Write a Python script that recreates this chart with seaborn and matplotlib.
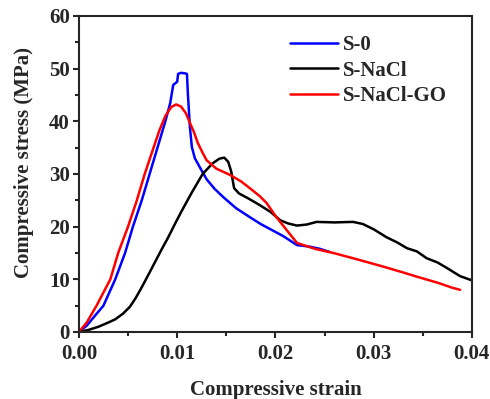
import numpy as np
import pandas as pd
import matplotlib
matplotlib.use("Agg")
import matplotlib.pyplot as plt
import seaborn as sns
from matplotlib.ticker import MultipleLocator

# S-0
s0_strain = [0.0, 0.0008, 0.0016, 0.0025, 0.0031, 0.0037, 0.0042, 0.0047, 0.0055, 0.0064,
             0.0072, 0.0080, 0.0088, 0.0093, 0.0096, 0.0100, 0.0101, 0.0104, 0.0108,
             0.0110, 0.0111, 0.0113, 0.0115, 0.0118, 0.0123, 0.0130, 0.0138, 0.0147,
             0.0160, 0.0174, 0.0185, 0.0195, 0.0208, 0.0222, 0.0235, 0.0245, 0.0255]
s0_stress = [0.0, 1.2, 3.0, 5.0, 7.5, 10.0, 12.5, 15.0, 20.0, 25.0,
             30.0, 35.0, 40.0, 43.5, 46.9, 47.5, 49.0, 49.2, 49.1,
             49.0, 45.0, 38.9, 35.1, 33.0, 31.3, 29.0, 27.2, 25.6,
             23.5, 21.8, 20.5, 19.5, 18.2, 16.5, 16.2, 15.8, 15.2]

# S-NaCl
nacl_strain = [0.0, 0.0010, 0.0020, 0.0030, 0.0037, 0.0045, 0.0052, 0.0058, 0.0064, 0.0070,
               0.0077, 0.0084, 0.0091, 0.0098, 0.0105, 0.0115, 0.0126, 0.0136, 0.0143,
               0.0148, 0.0152, 0.0155, 0.0158, 0.0163, 0.0172, 0.0184, 0.0195, 0.0205,
               0.0213, 0.0222, 0.0232, 0.0242, 0.0260, 0.0279, 0.0289, 0.0300, 0.0313,
               0.0324, 0.0334, 0.0344, 0.0354, 0.0365, 0.0375, 0.0388, 0.0400]
nacl_stress = [0.0, 0.4, 1.0, 1.8, 2.4, 3.5, 4.8, 6.5, 8.5, 10.6,
               13.1, 15.6, 18.0, 20.6, 23.1, 26.5, 30.0, 32.0, 32.9,
               33.1, 32.3, 30.5, 27.3, 26.3, 25.4, 24.1, 22.8, 21.2,
               20.6, 20.2, 20.4, 20.9, 20.8, 20.9, 20.5, 19.5, 18.0,
               17.0, 15.9, 15.3, 14.0, 13.2, 12.1, 10.6, 9.8]

# S-NaCl-GO
go_strain = [0.0, 0.0008, 0.0018, 0.0025, 0.0032, 0.0040, 0.0050, 0.0059, 0.0067, 0.0076,
             0.0082, 0.0088, 0.0094, 0.0099, 0.0104, 0.0109, 0.0113, 0.0117, 0.0121,
             0.0126, 0.0130, 0.0140, 0.0154, 0.0165, 0.0174, 0.0184, 0.0191, 0.0201,
             0.0213, 0.0222, 0.0240, 0.0259, 0.0285, 0.0310, 0.0330, 0.0344, 0.0366,
             0.0380, 0.0388]
go_stress = [0.0, 1.8, 5.0, 7.5, 10.0, 15.0, 20.0, 25.0, 30.0, 35.0,
             38.3, 41.0, 42.7, 43.2, 42.8, 41.5, 39.7, 38.0, 35.9,
             34.0, 32.6, 31.0, 29.8, 28.6, 27.3, 25.8, 24.5, 21.8,
             19.0, 16.9, 15.8, 15.0, 13.7, 12.4, 11.3, 10.5, 9.3,
             8.4, 8.0]

series_names = ["S-0", "S-NaCl", "S-NaCl-GO"]
colors = ["#0000ff", "#000000", "#ff0000"]
x_tick_labels = ["0.00", "0.01", "0.02", "0.03", "0.04"]

df = pd.concat([
    pd.DataFrame({"strain": s0_strain, "stress": s0_stress, "sample": series_names[0]}),
    pd.DataFrame({"strain": nacl_strain, "stress": nacl_stress, "sample": series_names[1]}),
    pd.DataFrame({"strain": go_strain, "stress": go_stress, "sample": series_names[2]}),
], ignore_index=True)

sns.set_style("ticks")
plt.rcParams['font.family'] = ['Liberation Serif', 'DejaVu Serif']
plt.rcParams['font.weight'] = 'bold'

fig = plt.figure(figsize=(4.9, 3.99), dpi=100)
ax = fig.add_axes([0.161, 0.168, 0.802, 0.792])

sns.lineplot(data=df, x="strain", y="stress", hue="sample", hue_order=series_names,
             palette=colors, sort=False, estimator=None, linewidth=1.8, ax=ax)

ax.set_xlim(0, 0.04)
ax.set_ylim(0, 60)
ax.xaxis.set_minor_locator(MultipleLocator(0.005))
ax.yaxis.set_major_locator(MultipleLocator(10))
ax.yaxis.set_minor_locator(MultipleLocator(5))
ax.set_xticks([0.0, 0.01, 0.02, 0.03, 0.04])
ax.set_xticklabels(x_tick_labels)
ax.tick_params(which='major', direction='out', length=4.5, width=1.5, labelsize=15)
ax.tick_params(axis='x', which='major', pad=4.5)
ax.tick_params(axis='y', which='major', pad=2)
ax.tick_params(which='minor', direction='out', length=3, width=1.5)
for lab in ax.get_xticklabels() + ax.get_yticklabels():
    lab.set_fontweight('bold')
for sp in ax.spines.values():
    sp.set_linewidth(1.5)
    sp.set_visible(True)

ax.set_xlabel("Compressive strain", fontsize=15, fontweight='bold', labelpad=11)
ax.set_ylabel("Compressive stress (MPa)", fontsize=15, fontweight='bold')
ax.yaxis.set_label_coords(-0.115, 0.535)

leg = ax.legend(loc='upper right', bbox_to_anchor=(0.968, 0.978), frameon=False, fontsize=15,
                handlelength=2.3, handletextpad=0.25, labelspacing=0.25, borderaxespad=0.2)
for t in leg.get_texts():
    t.set_fontweight('bold')
for l in leg.get_lines():
    l.set_linewidth(1.8)

fig.savefig("out.png", dpi=100)
